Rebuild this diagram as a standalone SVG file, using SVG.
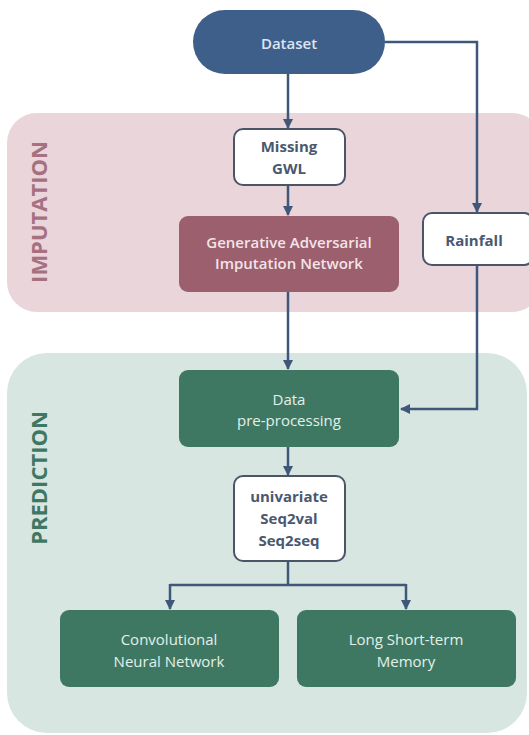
<svg xmlns="http://www.w3.org/2000/svg" width="529" height="735" viewBox="0 0 529 735">
<defs>
<marker id="arr" viewBox="0 0 10 10" refX="9" refY="5" markerWidth="4" markerHeight="4" orient="auto" markerUnits="strokeWidth">
<path d="M0,0 L10,5 L0,10 z" fill="#3f5778"/>
</marker>
<style>
.t{font-family:"Open Sans","Liberation Sans",sans-serif;font-weight:600;text-anchor:middle}
.w{fill:#ffffff;stroke:#4a5668;stroke-width:2}
.wt{fill:#4a5870;font-size:15px;font-weight:700}
.g{fill:#3f7862}
.gt{fill:#e3f0ea;font-size:15px;font-weight:500}
.c{fill:none;stroke:#3f5778;stroke-width:2.5}
.a{marker-end:url(#arr)}
.lbl{font-size:22px;font-weight:700}
</style>
</defs>
<rect width="529" height="735" fill="#ffffff"/>
<g id="imputation-region">
<rect x="7" y="113" width="535" height="199" rx="30" fill="#e9d5da"/>
<text class="t lbl" transform="translate(47,212) rotate(-90)" fill="#a57080">IMPUTATION</text>
</g>
<g id="prediction-region">
<rect x="7" y="353" width="520" height="380" rx="40" fill="#d8e6e2"/>
<text class="t lbl" transform="translate(47,478) rotate(-90)" fill="#3f7862">PREDICTION</text>
</g>
<g id="connectors">
<path class="c a" d="M288,74 V128"/>
<path class="c a" d="M385,42 H477 V212"/>
<path class="c a" d="M288,185 V215"/>
<path class="c a" d="M288,292 V369"/>
<path class="c a" d="M477,265 V409 H401"/>
<path class="c a" d="M288,447 V475"/>
<path class="c" d="M288,561 V585"/>
<path class="c" d="M170,585 H406"/>
<path class="c a" d="M170,584 V609"/>
<path class="c a" d="M406,584 V609"/>
</g>
<g id="dataset">
<rect x="193" y="10" width="192" height="64" rx="32" fill="#3e5f8a"/>
<text class="t" x="289" y="49" fill="#dde6f0" font-size="15">Dataset</text>
</g>
<g id="missing-gwl">
<rect class="w" x="234" y="129" width="111" height="56" rx="9"/>
<text class="t wt" x="289" y="152">Missing</text>
<text class="t wt" x="289" y="174">GWL</text>
</g>
<g id="gain">
<rect x="179" y="216" width="220" height="76" rx="9" fill="#9b5f6e"/>
<text class="t" x="289" y="248" fill="#f3e4e8" font-size="15" font-weight="500">Generative Adversarial</text>
<text class="t" x="289" y="269" fill="#f3e4e8" font-size="15" font-weight="500">Imputation Network</text>
</g>
<g id="rainfall">
<rect class="w" x="423" y="213" width="110" height="52" rx="9"/>
<text class="t wt" x="474" y="246">Rainfall</text>
</g>
<g id="data-preprocessing">
<rect class="g" x="179" y="370" width="220" height="77" rx="9"/>
<text class="t gt" x="289" y="405">Data</text>
<text class="t gt" x="289" y="426">pre-processing</text>
</g>
<g id="univariate">
<rect class="w" x="234" y="476" width="111" height="85" rx="9"/>
<text class="t wt" x="289" y="502">univariate</text>
<text class="t wt" x="289" y="524">Seq2val</text>
<text class="t wt" x="289" y="546">Seq2seq</text>
</g>
<g id="cnn">
<rect class="g" x="60" y="610" width="219" height="77" rx="9"/>
<text class="t gt" x="169" y="645">Convolutional</text>
<text class="t gt" x="169" y="667">Neural Network</text>
</g>
<g id="lstm">
<rect class="g" x="297" y="610" width="219" height="77" rx="9"/>
<text class="t gt" x="406" y="645">Long Short-term</text>
<text class="t gt" x="406" y="667">Memory</text>
</g>
</svg>
